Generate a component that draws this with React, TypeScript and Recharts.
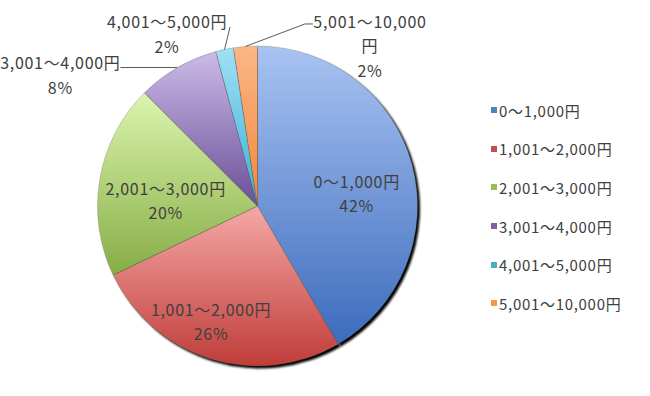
import React from 'react';
import { PieChart, Pie, Cell, Legend } from 'recharts';

// 価格帯ごとの割合 (%)
const categories = ['0～1,000円', '1,001～2,000円', '2,001～3,000円', '3,001～4,000円', '4,001～5,000円', '5,001～10,000円'];
const shares = [41.6, 26.3, 19.6, 8.3, 1.8, 2.4];

// legend colours (excel defaults) + slice gradients top -> bottom
const baseColors = ['#4f81bd', '#c0504d', '#9bbb59', '#8064a2', '#4bacc6', '#f79646'];
const gradTop = ['#a9c3f2', '#f5a8a6', '#dcf5ae', '#cbbbe6', '#a0e0f4', '#fbb787'];
const gradBottom = ['#3c6cbd', '#bf3d39', '#86ad45', '#6a4f98', '#3aaed6', '#f0873a'];

const data = categories.map((name, i) => ({ name, value: shares[i] }));

const FONT = '"Noto Sans CJK JP", "Noto Sans", sans-serif';
const TEXT = '#404040';
const RADIAN = Math.PI / 180;

// inside labels: radius ratio + clockwise angle shift
const insideLayout: Record<number, { r: number; da: number }> = {
  0: { r: 0.625, da: 7.7 },
  1: { r: 0.775, da: 4.9 },
  2: { r: 0.575, da: -5.9 },
};

// outside labels: offsets from slice edge
const outsideLayout: Record<number, { line: number[][]; tx: number; ty: number[]; lines: (n: string, p: string) => string[] }> = {
  3: { line: [[-57, 0]], tx: -117, ty: [-6, 19], lines: (n, p) => [n, p] },
  4: { line: [[5.5, -22.4]], tx: -57.5, ty: [-28.4, -3.4], lines: (n, p) => [n, p] },
  5: {
    line: [[59.5, -22.5], [67.5, -22.5]],
    tx: 124.5,
    ty: [-25.5, -1.5, 23.5],
    lines: (n, p) => [n.replace('円', ''), '円', p],
  },
};

const renderLabel = (props: any) => {
  const { cx, cy, midAngle, outerRadius, index, percent, name } = props;
  const pct = `${Math.round(percent * 100)}%`;
  const style = { fontSize: 16, fill: TEXT, fontFamily: FONT, letterSpacing: 0.7 };

  if (insideLayout[index]) {
    const { r, da } = insideLayout[index];
    const ang = (midAngle - da) * RADIAN;
    const x = cx + outerRadius * r * Math.cos(ang);
    const y = cy - outerRadius * r * Math.sin(ang);
    return (
      <g>
        <text x={x} y={y - 12} textAnchor="middle" dominantBaseline="central" style={style}>{name}</text>
        <text x={x} y={y + 12} textAnchor="middle" dominantBaseline="central" style={style}>{pct}</text>
      </g>
    );
  }

  const cfg = outsideLayout[index];
  if (!cfg) return null;
  const ex = cx + outerRadius * Math.cos(midAngle * RADIAN);
  const ey = cy - outerRadius * Math.sin(midAngle * RADIAN);
  const pts = [[ex, ey], ...cfg.line.map(([dx, dy]) => [ex + dx, ey + dy])];
  const lines = cfg.lines(name, pct);
  return (
    <g>
      <polyline points={pts.map((p) => p.join(',')).join(' ')} fill="none" stroke="#595959" strokeWidth={1} />
      {lines.map((t, k) => (
        <text key={k} x={ex + cfg.tx} y={ey + cfg.ty[k]} textAnchor="middle" dominantBaseline="central" style={style}>
          {t}
        </text>
      ))}
    </g>
  );
};

const renderLegend = () => (
  <div style={{ fontFamily: FONT, fontSize: 15, color: TEXT, letterSpacing: 0.7 }}>
    {categories.map((c, i) => (
      <div key={c} style={{ height: 38.6, display: 'flex', alignItems: 'center', whiteSpace: 'nowrap' }}>
        <span style={{ display: 'inline-block', width: 6, height: 6, background: baseColors[i], marginRight: 2 }} />
        <span>{c}</span>
      </div>
    ))}
  </div>
);

export default function App() {
  return (
    <div style={{ position: 'absolute', left: 0, top: 0, width: 650, height: 396, background: '#fff' }}>
      <PieChart width={650} height={396} margin={{ top: 0, right: 0, bottom: 0, left: 0 }}>
        <defs>
          {categories.map((c, i) => (
            <linearGradient key={c} id={`g${i}`} x1="0" y1="0" x2="0" y2="1">
              <stop offset="0%" stopColor={gradTop[i]} />
              <stop offset="100%" stopColor={gradBottom[i]} />
            </linearGradient>
          ))}
          <filter id="pieShadow" x="-10%" y="-10%" width="120%" height="120%">
            <feGaussianBlur stdDeviation="1.2" />
          </filter>
        </defs>
        {/* shadow */}
        <Pie
          data={data}
          dataKey="value"
          cx={260}
          cy={208.5}
          outerRadius={160}
          startAngle={90}
          endAngle={-270}
          fill="#000"
          stroke="none"
          legendType="none"
          isAnimationActive={false}
          style={{ filter: 'url(#pieShadow)' }}
        />
        <Pie
          data={data}
          dataKey="value"
          nameKey="name"
          cx={257.5}
          cy={206}
          outerRadius={160}
          startAngle={90}
          endAngle={-270}
          label={renderLabel}
          labelLine={false}
          isAnimationActive={false}
        >
          {data.map((d, i) => (
            <Cell key={d.name} fill={`url(#g${i})`} stroke="rgba(90,90,90,0.45)" strokeWidth={0.6} />
          ))}
        </Pie>
        <Legend content={renderLegend} wrapperStyle={{ position: 'absolute', left: 491, top: 91, width: 155 }} />
      </PieChart>
    </div>
  );
}
